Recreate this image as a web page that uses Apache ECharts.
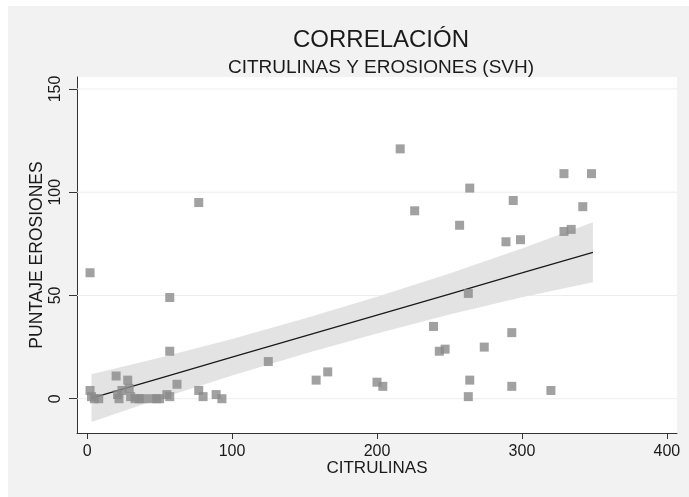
<!DOCTYPE html>
<html>
<head>
<meta charset="utf-8">
<script src="https://cdn.jsdelivr.net/npm/echarts@6.0.0/dist/echarts.min.js"></script>
<style>
  html, body { margin: 0; padding: 0; background: #ffffff; }
  #bg { position: absolute; left: 8px; top: 6px; width: 681px; height: 491px; background: #f2f2f2; }
  #chart { position: absolute; left: 0; top: 0; width: 689px; height: 497px; }
</style>
</head>
<body>
<div id="bg"></div>
<div id="chart"></div>
<script>
// Scatter data: CITRULINAS (x) and PUNTAJE EROSIONES (y)
const citrulinas = [2, 3, 5, 8, 20, 21, 22, 24, 28, 29, 30, 33, 36, 38, 44, 48, 50, 55, 57, 57, 62, 77, 80, 89, 93, 125, 2, 77, 57,
  216, 329, 348, 264, 294, 342, 226, 257, 329, 334, 289, 299, 263, 239, 293, 243, 247, 274, 158, 166, 200, 204, 264, 263, 293, 320];
const erosiones = [4, 1, 0, 0, 11, 2, 0, 4, 9, 5, 1, 0, 0, 0, 0, 0, 0, 2, 1, 23, 7, 4, 1, 2, 0, 18, 61, 95, 49,
  121, 109, 109, 102, 96, 93, 91, 84, 81, 82, 76, 77, 51, 35, 32, 23, 24, 25, 9, 13, 8, 6, 9, 1, 6, 4];

// Fitted line and confidence band
const fitX    = [3, 50, 100, 150, 200, 250, 300, 349];
const fitY    = [0.3, 9.9, 20.1, 30.3, 40.5, 50.7, 60.9, 70.9];
const ciUpper = [11.9, 19.8, 28.9, 38.8, 49.4, 60.6, 72.7, 85.4];
const ciLower = [-11.3, 0.0, 11.3, 21.8, 31.6, 40.8, 49.1, 56.4];

// Ticks
const xTicks = [0, 100, 200, 300, 400];
const yTicks = [0, 50, 100, 150];

const X_MIN = -7, X_MAX = 407, Y_MIN = -16.6, Y_MAX = 155.8;
const FONT = 'Liberation Sans';
const chart = echarts.init(document.getElementById('chart'), null, { renderer: 'canvas' });

const option = {
  animation: false,
  backgroundColor: 'transparent',
  textStyle: { fontFamily: FONT },
  title: {
    text: 'CORRELACIÓN',
    subtext: 'CITRULINAS Y EROSIONES (SVH)',
    left: 376,
    textAlign: 'center',
    top: 23,
    itemGap: 6,
    textStyle: { fontFamily: FONT, fontSize: 24, fontWeight: 'normal', color: '#1a1a1a' },
    subtextStyle: { fontFamily: FONT, fontSize: 19, color: '#1a1a1a' }
  },
  grid: {
    left: 77, right: 12, top: 77, bottom: 64,
    show: true, backgroundColor: '#ffffff', borderWidth: 0,
    outerBoundsMode: 'none'
  },
  xAxis: {
    type: 'value',
    min: X_MIN, max: X_MAX,
    name: 'CITRULINAS',
    nameLocation: 'middle',
    nameGap: 27,
    nameMoveOverlap: false,
    nameTextStyle: { fontFamily: FONT, fontSize: 17, color: '#1a1a1a' },
    axisLine: { show: true, onZero: false, lineStyle: { color: '#333', width: 1 } },
    axisTick: { show: true, length: 6, customValues: xTicks, lineStyle: { color: '#333' } },
    axisLabel: { customValues: xTicks, fontFamily: FONT, fontSize: 16, color: '#1a1a1a', margin: 11 },
    splitLine: { show: false }
  },
  yAxis: {
    type: 'value',
    min: Y_MIN, max: Y_MAX,
    name: 'PUNTAJE EROSIONES',
    nameLocation: 'middle',
    nameRotate: 90,
    nameGap: 31,
    nameMoveOverlap: false,
    nameTextStyle: { fontFamily: FONT, fontSize: 17.5, color: '#1a1a1a' },
    axisLine: { show: true, onZero: false, lineStyle: { color: '#333', width: 1 } },
    axisTick: { show: true, length: 8, customValues: yTicks, lineStyle: { color: '#333' } },
    axisLabel: { customValues: yTicks, rotate: 90, fontFamily: FONT, fontSize: 16, color: '#1a1a1a', margin: 13 },
    splitLine: { show: false }
  },
  series: [
    {
      type: 'custom',
      z: 1,
      silent: true,
      data: [[fitX[0], fitY[0]]],
      renderItem: function (params, api) {
        if (params.dataIndex !== 0) return;
        const children = [];
        yTicks.forEach(v => {
          const a = api.coord([X_MIN, v]);
          const b = api.coord([X_MAX, v]);
          children.push({ type: 'line', shape: { x1: a[0], y1: a[1], x2: b[0], y2: b[1] },
            style: { stroke: '#ededed', lineWidth: 1 } });
        });
        const pts = [];
        for (let i = 0; i < fitX.length; i++) pts.push(api.coord([fitX[i], ciUpper[i]]));
        for (let i = fitX.length - 1; i >= 0; i--) pts.push(api.coord([fitX[i], ciLower[i]]));
        children.push({ type: 'polygon', shape: { points: pts }, style: { fill: '#e3e3e3' } });
        return { type: 'group', children: children };
      }
    },
    {
      type: 'line',
      z: 2,
      silent: true,
      symbol: 'none',
      data: fitX.map((x, i) => [x, fitY[i]]),
      lineStyle: { color: '#1a1a1a', width: 1.3 }
    },
    {
      type: 'scatter',
      z: 3,
      symbol: 'rect',
      symbolSize: 9,
      itemStyle: { color: '#8a8a8a' },
      data: citrulinas.map((x, i) => [x, erosiones[i]])
    }
  ]
};
chart.setOption(option);
</script>
</body>
</html>
